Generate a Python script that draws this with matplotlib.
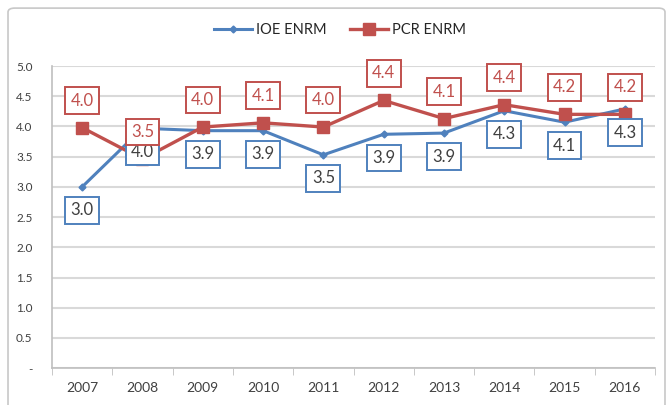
import matplotlib.pyplot as plt
from matplotlib.patches import FancyBboxPatch
from matplotlib.ticker import FixedLocator

plt.rcParams['font.family'] = ['Lato', 'DejaVu Sans']

years = ['2007', '2008', '2009', '2010', '2011', '2012', '2013', '2014', '2015', '2016']
ioe = [3.00, 3.97, 3.93, 3.93, 3.53, 3.87, 3.89, 4.26, 4.07, 4.29]
pcr = [3.98, 3.46, 3.99, 4.06, 3.99, 4.43, 4.13, 4.36, 4.20, 4.20]

blue = '#4F81BD'
red = '#C0504D'
grid_c = '#D9D9D9'

fig = plt.figure(figsize=(6.67, 4.05), dpi=100)
ax = fig.add_axes([0.078, 0.091, 0.904, 0.746])

# outer chart frame
frame = FancyBboxPatch((0.012, -0.02), 0.985, 1.0, boxstyle='round,pad=0,rounding_size=0.01',
                       transform=fig.transFigure, fill=False, edgecolor='#C8C8C8', lw=1.2)
fig.patches.append(frame)

x = list(range(len(years)))
ax.plot(x, ioe, color=blue, lw=2.2, marker='D', ms=3.5, label='IOE ENRM', zorder=3)
ax.plot(x, pcr, color=red, lw=2.4, marker='s', ms=8, label='PCR ENRM', zorder=4)

for i, v in enumerate(ioe):
    ax.annotate(f'{v:.1f}', (i, v), xytext=(0, -17), textcoords='offset points',
                ha='center', va='center', fontsize=12, color='#404040', zorder=5,
                bbox=dict(boxstyle='square,pad=0.32', fc='white', ec=blue, lw=1.4))
for i, v in enumerate(pcr):
    ax.annotate(f'{v:.1f}', (i, v), xytext=(0, 19.5), textcoords='offset points',
                ha='center', va='center', fontsize=12, color=red, zorder=6,
                bbox=dict(boxstyle='square,pad=0.32', fc='white', ec=red, lw=1.4))

ax.set_xlim(-0.5, len(years) - 0.5)
ax.set_ylim(0, 5.0)
yt = [i * 0.5 for i in range(11)]
ax.set_yticks(yt)
ax.set_yticklabels(['-'] + [f'{t:.1f}' for t in yt[1:]])
ax.set_xticks(x)
ax.set_xticklabels(years)
ax.xaxis.set_minor_locator(FixedLocator([i + 0.5 for i in range(-1, len(years))]))
ax.tick_params(axis='x', which='major', length=0, pad=10, labelsize=10, labelcolor='#404040')
ax.tick_params(axis='x', which='minor', length=5, color='#BFBFBF', direction='out')
ax.tick_params(axis='y', length=0, pad=14, labelsize=8.5, labelcolor='#404040')

ax.grid(axis='y', color=grid_c, lw=1.5)
ax.set_axisbelow(True)
for s in ['top', 'right']:
    ax.spines[s].set_visible(False)
ax.spines['left'].set_color('#BFBFBF')
ax.spines['bottom'].set_color('#BFBFBF')
ax.spines['left'].set_linewidth(1.2)
ax.spines['bottom'].set_linewidth(1.2)

fig.legend(loc='center', bbox_to_anchor=(0.51, 0.925), ncol=2, frameon=False,
           fontsize=10.5, handlelength=2.6, columnspacing=1.6, handletextpad=0.3,
           labelcolor='#262626')

fig.savefig('out.png', dpi=100)
